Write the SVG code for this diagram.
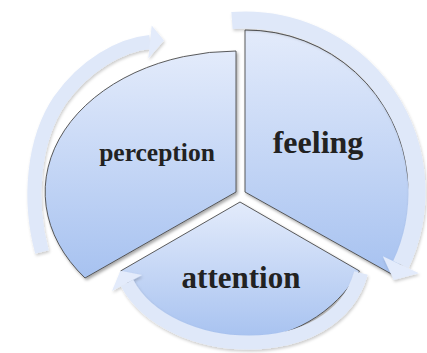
<svg xmlns="http://www.w3.org/2000/svg" width="427" height="353" viewBox="0 0 427 353">
  <defs>
    <linearGradient id="sectorFill" x1="0" y1="0" x2="0" y2="1">
      <stop offset="0" stop-color="#e3ebfb"/>
      <stop offset="1" stop-color="#a7c2f0"/>
    </linearGradient>
    <filter id="shadow" x="-10%" y="-10%" width="120%" height="120%">
      <feDropShadow dx="1.5" dy="2" stdDeviation="1.8" flood-color="#000" flood-opacity="0.35"/>
    </filter>
    <filter id="bandShadow" x="-10%" y="-10%" width="120%" height="120%">
      <feDropShadow dx="1" dy="2" stdDeviation="1.5" flood-color="#000" flood-opacity="0.2"/>
    </filter>
  </defs>
  <style>
    .sector { fill: url(#sectorFill); stroke: #4a4a4a; stroke-width: 0.9; filter: url(#shadow); }
    .band { fill: none; stroke: #dfe8f9; stroke-linecap: butt; }
    .head { fill: #e3ebfb; stroke: none; }
    .label { font-family: "Liberation Serif", "Times New Roman", serif; font-weight: bold; fill: #222222; text-anchor: middle; }
  </style>

  <g id="perception">
    <path class="sector" d="M236,192 L236,51 A192,141 0 0 0 85,278 Z"/>
    <text class="label" x="157" y="161" font-size="25.5">perception</text>
  </g>

  <g id="feeling">
    <path class="sector" d="M245,192 L245,30 A163,162 0 0 1 408,178 A170,170 0 0 1 395,276 Z"/>
    <text class="label" x="318" y="153" font-size="32">feeling</text>
  </g>

  <g id="attention">
    <path class="sector" d="M240,202 L359.5,271 A138,138 0 0 1 120.5,271 Z"/>
    <text class="label" x="241" y="288" font-size="31">attention</text>
  </g>

  <g id="connectors" filter="url(#bandShadow)">
    <g id="arrow-perception-feeling">
      <path class="band" stroke-width="14" d="M42,252 C28,200 33,140 60,100 C85,65 120,45 150,42"/>
      <polygon class="head" points="151.7,25.6 164,40.6 148.3,58.4"/>
    </g>
    <g id="arrow-feeling-attention">
      <path class="band" stroke-width="17" d="M232,20.5 A172,172 0 0 1 400.9,264.7"/>
      <polygon class="head" points="419,273.2 393.7,280.1 382.8,256.2"/>
    </g>
    <g id="arrow-attention-perception">
      <path class="band" stroke-width="14" d="M361,273 C335,368 168,360 127,283"/>
      <polygon class="head" points="142,275 120.4,270.7 112,291"/>
    </g>
  </g>
</svg>
